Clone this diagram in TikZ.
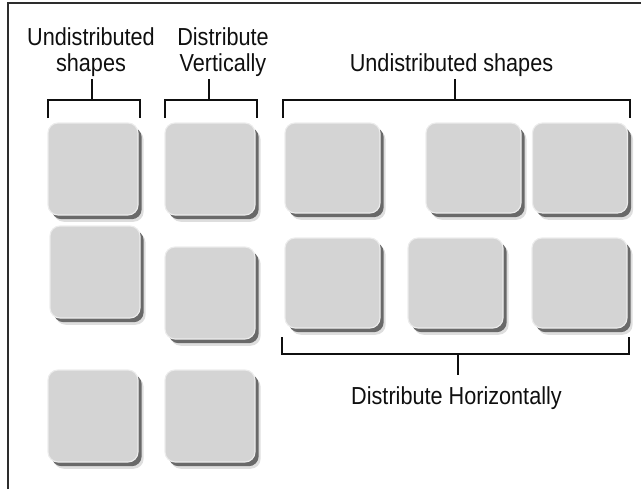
\documentclass[tikz,border=0pt]{standalone}
\usepackage{fontspec}
\setmainfont[FakeStretch=0.88]{Liberation Sans}
\usepackage{xcolor}
\definecolor{boxface}{RGB}{212,212,212}
\definecolor{boxedge}{RGB}{236,236,236}
\definecolor{boxdark}{RGB}{105,105,105}
\definecolor{boxsoft}{RGB}{222,222,222}
\definecolor{framegray}{RGB}{45,45,45}
\definecolor{textgray}{RGB}{15,15,15}

\begin{document}
\begin{tikzpicture}[scale=1.0,
  every node/.style={font=\fontsize{17.5}{18.5}\selectfont, text=textgray},
  shapebox/.style={rounded corners=0.25cm, fill=boxface, draw=boxedge, line width=0.8pt, inner sep=0pt,
    preaction={fill=boxsoft, draw=none, transform canvas={xshift=4pt,yshift=-4.8pt}},
    preaction={fill=boxdark, draw=none, transform canvas={xshift=2.6pt,yshift=-3pt}}},
  colbox/.style={shapebox, minimum width=2.25cm, minimum height=2.3cm},
  rowbox/.style={shapebox, minimum width=2.375cm, minimum height=2.25cm},
  bracket/.style={draw=textgray, line width=0.75pt},
  grouplabel/.style={align=center, inner sep=1.5pt}]
  \useasboundingbox (0,0) rectangle (16.025,12.225);

  % Frame (top and left edge)
  \draw[framegray, line width=1.1pt] (0.2,0) -- (0.2,12.15) -- (16.025,12.15);

  % Group labels
  \node[grouplabel, anchor=south] (lblUL) at (2.275,10.25) {Undistributed\\shapes};
  \node[grouplabel, anchor=south] (lblDV) at (5.575,10.25) {Distribute\\Vertically};
  \node[grouplabel, anchor=south] (lblUR) at (11.2875,10.25) {Undistributed shapes};
  \node[grouplabel, anchor=north, inner sep=0pt] (lblDH) at (11.4125,2.575) {Distribute Horizontally};

  % Left column: undistributed
  \node[colbox] (c11) at (2.325,8.0) {};
  \node[colbox] (c12) at (2.375,5.425) {};
  \node[colbox] (c13) at (2.325,1.825) {};

  % Middle column: distributed vertically
  \node[colbox] (c21) at (5.25,8.0) {};
  \node[colbox] (c22) at (5.25,4.9) {};
  \node[colbox] (c23) at (5.25,1.825) {};

  % Top row: undistributed
  \node[rowbox] (r11) at (8.3125,8.025) {};
  \node[rowbox] (r12) at (11.8375,8.025) {};
  \node[rowbox] (r13) at (14.5,8.025) {};

  % Bottom row: distributed horizontally
  \node[rowbox] (r21) at (8.3125,5.15) {};
  \node[rowbox] (r22) at (11.3875,5.15) {};
  \node[rowbox] (r23) at (14.4875,5.15) {};

  % Brackets
  \coordinate (ulL) at (1.2,9.275);
  \coordinate (ulR) at (3.5,9.275);
  \coordinate (ulM) at (2.3,9.725);
  \draw[bracket] (ulL) |- (ulR |- ulM) -- (ulR);
  \draw[bracket] (ulM) -- (ulM |- lblUL.south);

  \coordinate (dvL) at (4.125,9.275);
  \coordinate (dvR) at (6.425,9.275);
  \coordinate (dvM) at (5.225,9.725);
  \draw[bracket] (dvL) |- (dvR |- dvM) -- (dvR);
  \draw[bracket] (dvM) -- (dvM |- lblDV.south);

  \coordinate (urL) at (7.075,9.275);
  \coordinate (urR) at (15.75,9.275);
  \coordinate (urM) at (11.375,9.725);
  \draw[bracket] (urL) |- (urR |- urM) -- (urR);
  \draw[bracket] (urM) -- (urM |- lblUR.south);

  \coordinate (dhL) at (7.05,3.8);
  \coordinate (dhR) at (15.725,3.8);
  \coordinate (dhM) at (11.45,3.375);
  \coordinate (dhE) at (11.45,2.85);
  \draw[bracket] (dhL) |- (dhR |- dhM) -- (dhR);
  \draw[bracket] (dhM) -- (dhE);
\end{tikzpicture}
\end{document}
